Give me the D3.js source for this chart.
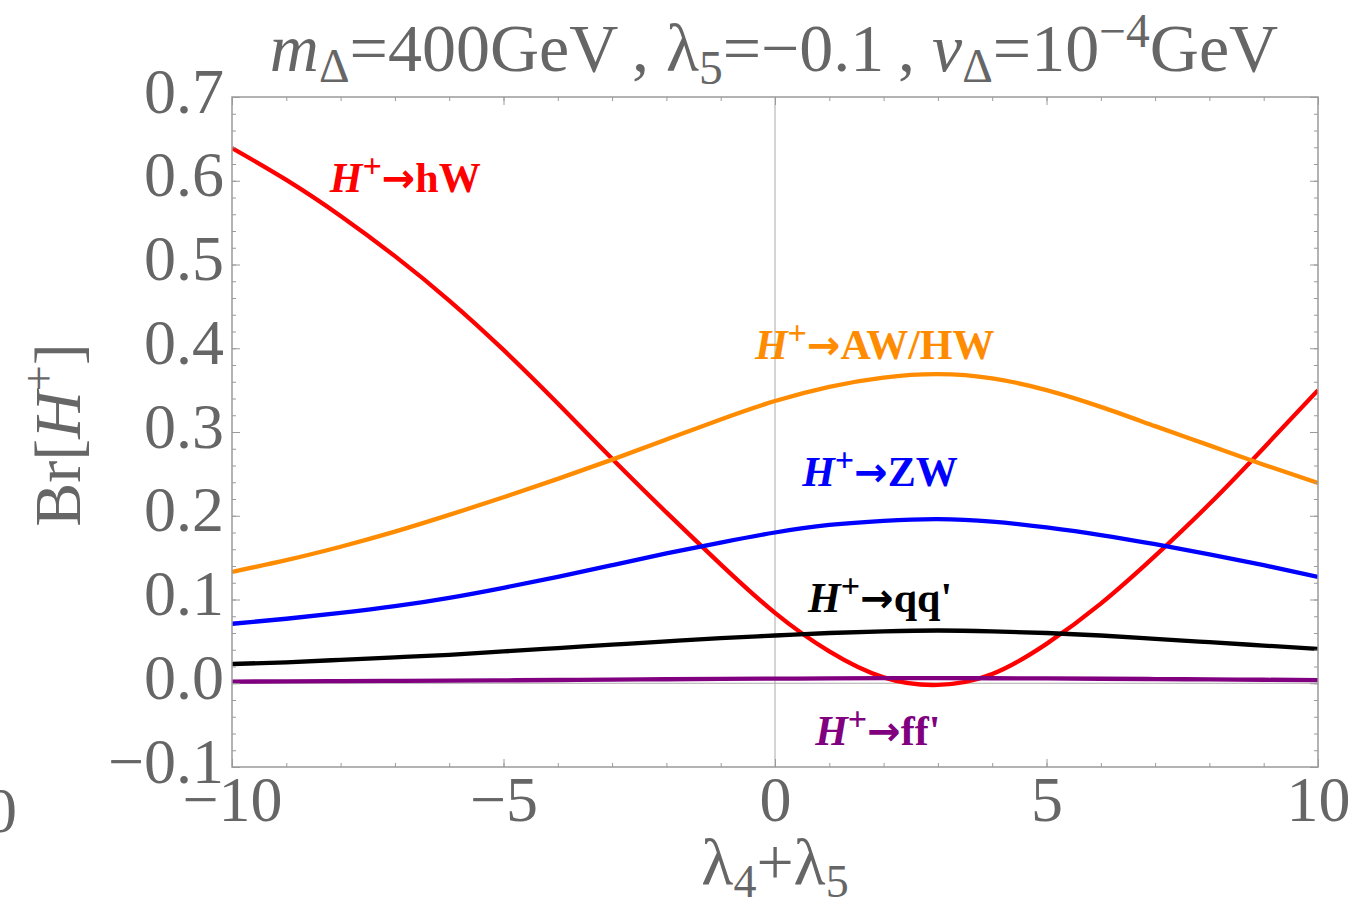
<!DOCTYPE html>
<html><head><meta charset="utf-8">
<script src="https://cdn.jsdelivr.net/npm/d3@7"></script>
<style>body{margin:0;background:#fff} svg{display:block}</style>
</head><body><svg id="c" width="1362" height="908"></svg>
<script>
// ---- data ----
const lambda45 = [-10,-9,-8,-7,-6,-5,-4,-3,-2,-1,0,1,2,3,4,5,6,7,8,9,10];
const brHW  = [0.639,0.601,0.558,0.510,0.457,0.398,0.334,0.268,0.204,0.142,0.084,0.038,0.007,-0.002,0.011,0.047,0.095,0.152,0.214,0.281,0.350];
const brAWHW= [0.133,0.147,0.163,0.181,0.201,0.222,0.244,0.267,0.291,0.315,0.337,0.354,0.365,0.369,0.364,0.350,0.330,0.307,0.284,0.261,0.239];
const brZW  = [0.071,0.077,0.084,0.092,0.102,0.114,0.127,0.141,0.155,0.168,0.180,0.189,0.194,0.196,0.193,0.186,0.177,0.166,0.154,0.141,0.127];
const brQQ  = [0.023,0.025,0.028,0.031,0.034,0.038,0.042,0.046,0.050,0.054,0.057,0.060,0.062,0.063,0.062,0.060,0.057,0.053,0.049,0.045,0.041];
const brFF  = [0.0020,0.0022,0.0025,0.0028,0.0031,0.0035,0.0039,0.0043,0.0048,0.0052,0.0055,0.0058,0.0060,0.0061,0.0060,0.0058,0.0054,0.0050,0.0046,0.0042,0.0038];

const xTickValues = [-10,-5,0,5,10];
const xTickLabels = ["\u221210","\u22125","0","5","10"];
const yTickValues = [0.7,0.6,0.5,0.4,0.3,0.2,0.1,0.0,-0.1];
const yTickLabels = ["0.7","0.6","0.5","0.4","0.3","0.2","0.1","0.0","\u22120.1"];

const seriesNames = ["hW","AW/HW","ZW","qq'","ff'"];
const seriesColors = ["#ff0000","#ff8c00","#0000ff","#000000","#800080"];
const seriesValues = [brHW, brAWHW, brZW, brQQ, brFF];
// label anchors in data coordinates (lambda, Br)
const labelAnchors = [[-8.2,0.586],[-0.37,0.387],[0.5,0.236],[0.61,0.085],[0.74,-0.074]];

// ---- layout ----
const svg = d3.select("#c");
const L=232, R=1318, T=97, B=767;
const x = d3.scaleLinear().domain([-10,10]).range([L,R]);
const y = d3.scaleLinear().domain([-0.1,0.7]).range([B,T]);
const gray = "#666666", frameCol="#9a9a9a";
const serif = "'Liberation Serif','Times New Roman',serif";

// zero lines
svg.append("line").attr("x1",x(0)).attr("x2",x(0)).attr("y1",T).attr("y2",B)
  .attr("stroke","#aaaaaa").attr("stroke-width",1);
svg.append("line").attr("x1",L).attr("x2",R).attr("y1",y(0)).attr("y2",y(0))
  .attr("stroke","#aaaaaa").attr("stroke-width",1);

// curves
const clip = svg.append("defs").append("clipPath").attr("id","pc");
clip.append("rect").attr("x",L).attr("y",T).attr("width",R-L).attr("height",B-T);
const line = d3.line().x(d=>x(d[0])).y(d=>y(d[1])).curve(d3.curveNatural);
const gCurves = svg.append("g").attr("clip-path","url(#pc)");
seriesValues.forEach((vals,i)=>{
  gCurves.append("path").datum(lambda45.map((l,j)=>[l,vals[j]]))
    .attr("d",line).attr("fill","none").attr("stroke",seriesColors[i])
    .attr("stroke-width",4.3).attr("stroke-linejoin","round");
});

// frame & ticks via axes
const minorX = d3.range(-10,10.001,1);
const minorY = d3.range(-0.1,0.7001,0.02).map(v=>+v.toFixed(2));
function styleAxis(g){ g.select(".domain").remove(); g.selectAll("line").attr("stroke",frameCol); }
svg.append("g").attr("transform",`translate(0,${B})`).call(d3.axisBottom(x).tickValues(minorX).tickSize(-4).tickFormat("")).call(styleAxis);
svg.append("g").attr("transform",`translate(0,${T})`).call(d3.axisTop(x).tickValues(minorX).tickSize(-4).tickFormat("")).call(styleAxis);
svg.append("g").attr("transform",`translate(${L},0)`).call(d3.axisLeft(y).tickValues(minorY).tickSize(-4).tickFormat("")).call(styleAxis);
svg.append("g").attr("transform",`translate(${R},0)`).call(d3.axisRight(y).tickValues(minorY).tickSize(-4).tickFormat("")).call(styleAxis);
const gx = svg.append("g").attr("transform",`translate(0,${B})`)
  .call(d3.axisBottom(x).tickValues(xTickValues).tickSize(-8).tickFormat((d,i)=>xTickLabels[i])).call(styleAxis);
gx.selectAll("text").attr("y",54).attr("dy",0).attr("font-family",serif).attr("font-size",64).attr("fill",gray);
svg.append("g").attr("transform",`translate(0,${T})`).call(d3.axisTop(x).tickValues(xTickValues).tickSize(-8).tickFormat("")).call(styleAxis);
const gy = svg.append("g").attr("transform",`translate(${L},0)`)
  .call(d3.axisLeft(y).tickValues(yTickValues).tickSize(-8).tickPadding(8).tickFormat((d,i)=>yTickLabels[i])).call(styleAxis);
gy.selectAll("text").attr("dy",15).attr("font-family",serif).attr("font-size",64).attr("fill",gray);
svg.append("g").attr("transform",`translate(${R},0)`).call(d3.axisRight(y).tickValues(yTickValues).tickSize(-8).tickFormat("")).call(styleAxis);
svg.append("rect").attr("x",L).attr("y",T).attr("width",R-L).attr("height",B-T)
  .attr("fill","none").attr("stroke",frameCol).attr("stroke-width",1.5);

// cut-off label of neighbouring panel
svg.append("text").attr("x",17).attr("y",832).attr("text-anchor","end")
  .attr("font-family",serif).attr("font-size",64).attr("fill",gray).text("0");

function sp(t, txt, opts={}){ const s=t.append("tspan").text(txt);
  if(opts.it) s.attr("font-style","italic"); if(opts.fs) s.attr("font-size",opts.fs);
  if(opts.dy!==undefined) s.attr("dy",opts.dy); if(opts.ff) s.attr("font-family",opts.ff); return s; }

// title
const F=68;
const title = svg.append("text").attr("x",774).attr("y",71).attr("text-anchor","middle")
  .attr("font-family",serif).attr("font-size",F).attr("fill",gray);
sp(title,"m",{it:1}); sp(title,"\u0394",{fs:F*0.7,dy:11}); sp(title,"=400GeV\u2009, ",{dy:-11});
sp(title,"\u03bb"); sp(title,"5",{fs:F*0.7,dy:13}); sp(title,"=\u22120.1\u2009, ",{dy:-13});
sp(title,"v",{it:1}); sp(title,"\u0394",{fs:F*0.7,dy:11}); sp(title,"=10",{dy:-11});
sp(title,"\u22124",{fs:F*0.7,dy:-24}); sp(title,"GeV",{dy:24});

// y label
const yl = svg.append("text").attr("transform","translate(80,435) rotate(-90)").attr("text-anchor","middle")
  .attr("font-family",serif).attr("font-size",66).attr("fill",gray);
sp(yl,"Br["); sp(yl,"H",{it:1}); sp(yl,"+",{fs:46,dy:-26}); sp(yl,"]",{dy:26});

// x label
const xl = svg.append("text").attr("x",775).attr("y",884).attr("text-anchor","middle")
  .attr("font-family",serif).attr("font-size",66).attr("fill",gray);
sp(xl,"\u03bb"); sp(xl,"4",{fs:46,dy:13}); sp(xl,"+",{dy:-13}); sp(xl,"\u03bb"); sp(xl,"5",{fs:46,dy:13});

// curve labels
seriesNames.forEach((n,i)=>{
  const t = svg.append("text").attr("x",x(labelAnchors[i][0])).attr("y",y(labelAnchors[i][1]))
    .attr("font-family",serif).attr("font-size",42).attr("font-weight","bold").attr("fill",seriesColors[i]);
  sp(t,"H",{it:1}); sp(t,"+",{fs:34,dy:-15});
  sp(t,"\u2192",{dy:15,fs:40,ff:"'DejaVu Sans',sans-serif"}); sp(t,n);
});
</script></body></html>
